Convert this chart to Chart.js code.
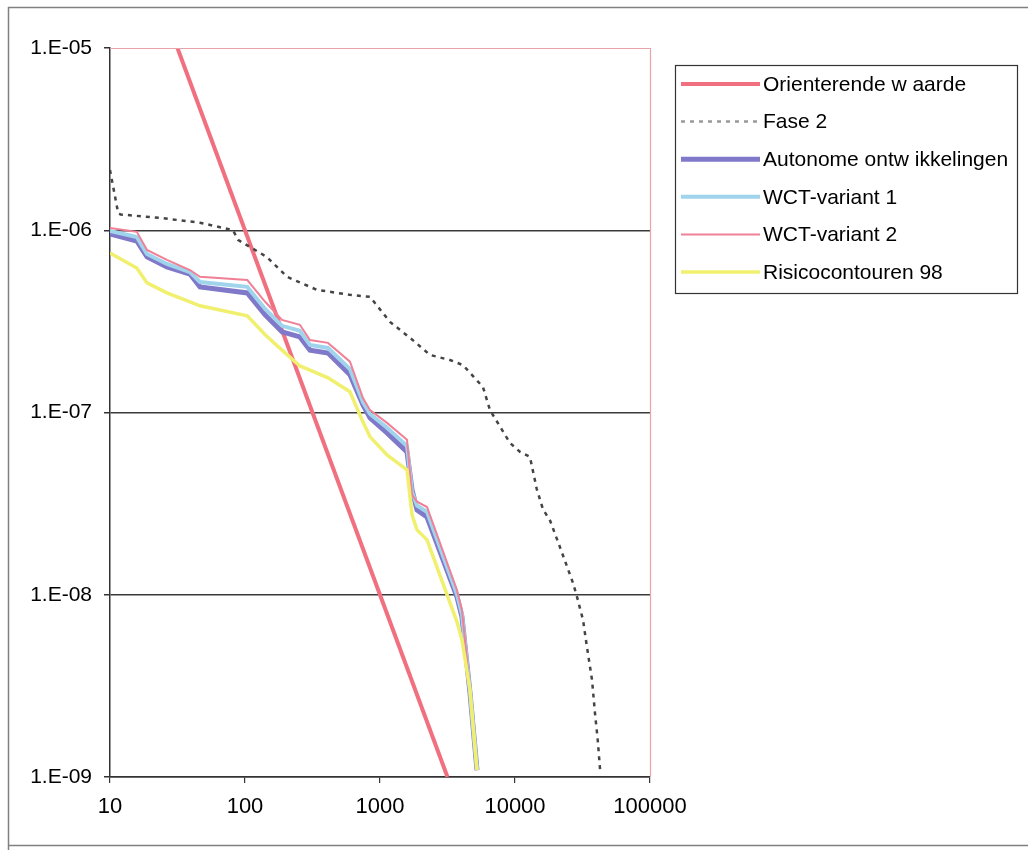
<!DOCTYPE html>
<html>
<head>
<meta charset="utf-8">
<script src="https://cdn.jsdelivr.net/npm/chart.js@4.4.1/dist/chart.umd.min.js"></script>
<style>
	html, body { margin: 0; padding: 0; background: #fff; }
	#wrap { width: 1028px; height: 850px; position: relative; }
</style>
</head>
<body>
<div id="wrap"><canvas id="riskChart" width="1028" height="850"></canvas></div>
<script>
// values (x = aantal slachtoffers, y = frequentie per jaar)
var xTicks = [10, 100, 1000, 10000, 100000];
var xTickLabels = ['10', '100', '1000', '10000', '100000'];
var yTicks = [1e-9, 1e-8, 1e-7, 1e-6, 1e-5];
var yTickLabels = ['1.E-09', '1.E-08', '1.E-07', '1.E-06', '1.E-05'];

var seriesNames = ['Orienterende w aarde', 'Fase 2', 'Autonome ontw ikkelingen', 'WCT-variant 1', 'WCT-variant 2', 'Risicocontouren 98'];

var orientX = [31.6, 3162];
var orientY = [1e-5, 1e-9];

var fase2X = [10, 11.5, 12, 23.4, 46.4, 68.7, 81.5, 88.8, 145, 205, 341, 599, 844, 1186, 1668, 2346, 3300, 4120, 5790, 6530, 9180, 10900, 12900, 14500, 16100, 18200, 21500, 26900, 28800, 31900, 34100, 37200, 39100, 41000, 42700];
var fase2Y = [2.14e-6, 1.24e-6, 1.22e-6, 1.17e-6, 1.10e-6, 1.03e-6, 1.0e-6, 8.85e-7, 7.14e-7, 5.55e-7, 4.71e-7, 4.42e-7, 4.31e-7, 3.14e-7, 2.57e-7, 2.07e-7, 1.94e-7, 1.82e-7, 1.38e-7, 1.03e-7, 6.81e-8, 6.08e-8, 5.71e-8, 3.8e-8, 2.95e-8, 2.55e-8, 1.83e-8, 1.16e-8, 9.73e-9, 7.28e-9, 5.18e-9, 3.41e-9, 2.25e-9, 1.6e-9, 1.09e-9];

var curveX = [10, 15.8, 18.8, 26.4, 39.1, 46.4, 104, 141, 188, 255, 303, 412, 599, 748, 844, 1127, 1585, 1727, 1881, 2230, 3715, 4045, 4640, 5230];
var autonome = [9.55e-7, 8.73e-7, 7.14e-7, 6.3e-7, 5.75e-7, 4.89e-7, 4.53e-7, 3.43e-7, 2.77e-7, 2.6e-7, 2.2e-7, 2.12e-7, 1.61e-7, 1.1e-7, 9.33e-8, 7.73e-8, 6.08e-8, 3.76e-8, 2.92e-8, 2.67e-8, 9.73e-9, 7.57e-9, 2.9e-9, 1.09e-9];
var wct1 = [9.9e-7, 9.18e-7, 7.41e-7, 6.53e-7, 5.9e-7, 5.2e-7, 4.89e-7, 3.7e-7, 2.99e-7, 2.81e-7, 2.35e-7, 2.26e-7, 1.73e-7, 1.14e-7, 9.82e-8, 8.24e-8, 6.56e-8, 3.66e-8, 3.08e-8, 2.85e-8, 1.01e-8, 7.85e-9, 2.93e-9, 1.09e-9];
var wct2 = [1.03e-6, 9.8e-7, 7.8e-7, 6.87e-7, 6.05e-7, 5.55e-7, 5.33e-7, 4.05e-7, 3.22e-7, 3.03e-7, 2.5e-7, 2.41e-7, 1.9e-7, 1.2e-7, 1.03e-7, 8.77e-8, 7.08e-8, 3.53e-8, 3.24e-8, 3.03e-8, 1.06e-8, 8.26e-9, 3.0e-9, 1.09e-9];
var risico = [7.5e-7, 6.21e-7, 5.14e-7, 4.53e-7, 4.05e-7, 3.85e-7, 3.39e-7, 2.67e-7, 2.2e-7, 1.8e-7, 1.71e-7, 1.55e-7, 1.3e-7, 8.87e-8, 7.35e-8, 5.85e-8, 4.84e-8, 2.74e-8, 2.27e-8, 2.0e-8, 7.1e-9, 5.66e-9, 3.0e-9, 1.09e-9];

var FONT = '"Liberation Sans", Arial, sans-serif';

function toPoints(xs, ys){
	var pts = [];
	for (var i = 0; i < xs.length; i++) {
		pts.push({x: xs[i], y: ys[i]});
	}
	return pts;
}

function lineSet(label, pts, color, width, dash, order){
	return {
		label: label,
		data: pts,
		showLine: true,
		borderColor: color,
		backgroundColor: color,
		borderWidth: width,
		borderDash: dash,
		pointRadius: 0,
		tension: 0,
		order: order
	};
}

// frame + pink top/right border of the plot area + own legend box
var decorPlugin = {
	id: 'decor',
	beforeDraw: function(chart){
		var c = chart.ctx;
		c.save();
		c.fillStyle = '#fff';
		c.fillRect(0, 0, chart.width, chart.height);
		c.strokeStyle = '#808080';
		c.lineWidth = 1.5;
		c.beginPath();
		c.moveTo(1028, 7.5); c.lineTo(8.5, 7.5); c.lineTo(8.5, 850);
		c.moveTo(8.5, 845.5); c.lineTo(1028, 845.5);
		c.stroke();
		c.restore();
	},
	afterDatasetsDraw: function(chart){
		var a = chart.chartArea;
		var c = chart.ctx;
		c.save();
		c.strokeStyle = '#e9a3ab';
		c.lineWidth = 1.2;
		c.beginPath();
		c.moveTo(a.left, a.top + 0.5);
		c.lineTo(a.right + 0.5, a.top + 0.5);
		c.lineTo(a.right + 0.5, a.bottom);
		c.stroke();
		c.restore();
	},
	afterDraw: function(chart){
		var c = chart.ctx;
		var bx = 675, by = 65, bw = 342, bh = 228;
		c.save();
		c.strokeStyle = '#333';
		c.lineWidth = 1.2;
		c.strokeRect(bx + 0.5, by + 0.5, bw, bh);
		c.font = '21px ' + FONT;
		c.textBaseline = 'middle';
		c.fillStyle = '#000';
		var ds = chart.data.datasets;
		for (var i = 0; i < ds.length; i++) {
			var yy = 84 + i * 37.6;
			c.beginPath();
			c.strokeStyle = i == 1 ? '#999' : ds[i].borderColor;
			c.lineWidth = ds[i].borderWidth;
			c.setLineDash(ds[i].borderDash || []);
			c.moveTo(681, yy);
			c.lineTo(760, yy);
			c.stroke();
			c.setLineDash([]);
			c.fillText(ds[i].label, 763, yy + 1);
		}
		c.restore();
	}
};

var ctx = document.getElementById('riskChart').getContext('2d');
var chart = new Chart(ctx, {
	type: 'scatter',
	data: {
		datasets: [
			lineSet(seriesNames[0], toPoints(orientX, orientY), 'rgb(240,112,128)', 4, [], 6),
			lineSet(seriesNames[1], toPoints(fase2X, fase2Y), '#444', 2.5, [4, 5], 5),
			lineSet(seriesNames[2], toPoints(curveX, autonome), 'rgb(128,120,200)', 5, [], 4),
			lineSet(seriesNames[3], toPoints(curveX, wct1), 'rgb(160,212,236)', 4, [], 3),
			lineSet(seriesNames[4], toPoints(curveX, wct2), 'rgb(240,128,150)', 2, [], 2),
			lineSet(seriesNames[5], toPoints(curveX, risico), 'rgb(240,240,110)', 3.5, [], 1)
		]
	},
	options: {
		responsive: false,
		animation: false,
		layout: { padding: { left: 0, top: 48, right: 378, bottom: 0 } },
		plugins: {
			legend: { display: false },
			tooltip: { enabled: false }
		},
		scales: {
			x: {
				type: 'logarithmic',
				min: 10,
				max: 100000,
				afterBuildTicks: function(scale){
					scale.ticks = xTicks.map(function(v){ return {value: v}; });
				},
				afterFit: function(scale){ scale.height = 73; },
				ticks: {
					autoSkip: false,
					maxRotation: 0,
					padding: 11,
					color: '#000',
					font: { family: FONT, size: 22 },
					callback: function(value){
						var i = xTicks.indexOf(value);
						return i >= 0 ? xTickLabels[i] : '';
					}
				},
				grid: { drawOnChartArea: false, drawTicks: true, tickLength: 6, tickColor: '#333', lineWidth: 1.2 },
				border: { display: true, color: '#333', width: 1.5 }
			},
			y: {
				type: 'logarithmic',
				min: 1e-9,
				max: 1e-5,
				afterBuildTicks: function(scale){
					scale.ticks = yTicks.map(function(v){ return {value: v}; });
				},
				afterFit: function(scale){ scale.width = 110; },
				ticks: {
					autoSkip: false,
					padding: 12,
					color: '#000',
					font: { family: FONT, size: 21 },
					callback: function(value){
						for (var i = 0; i < yTicks.length; i++) {
							if (Math.abs(Math.log10(value) - Math.log10(yTicks[i])) < 0.001) return yTickLabels[i];
						}
						return '';
					}
				},
				grid: {
					drawTicks: true,
					tickLength: 6,
					tickColor: '#333',
					lineWidth: 1.5,
					color: function(context){
						if (context.tick && Math.abs(context.tick.value - 1e-5) < 1e-7) return 'rgba(0,0,0,0)';
						return '#3a3a3a';
					}
				},
				border: { display: true, color: '#333', width: 1.5 }
			}
		}
	},
	plugins: [decorPlugin]
});
</script>
</body>
</html>
